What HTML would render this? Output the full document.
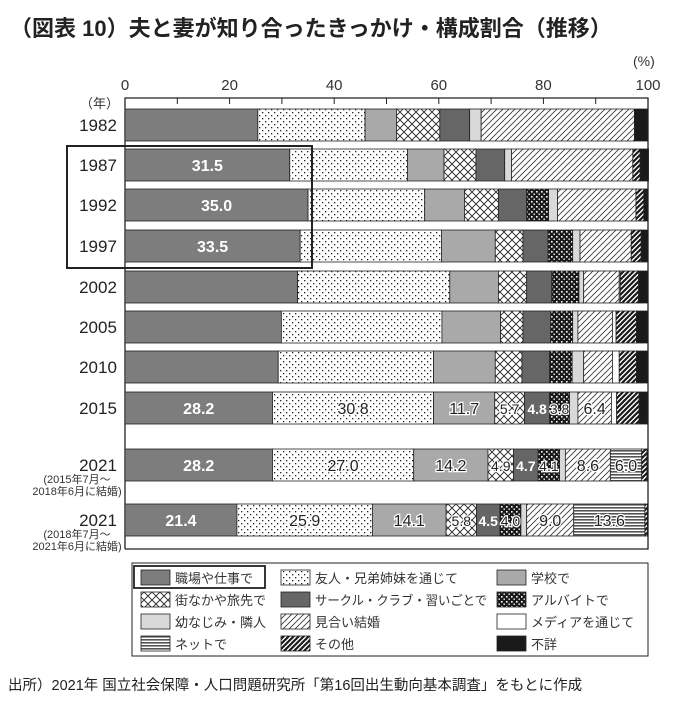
<!DOCTYPE html>
<html><head><meta charset="utf-8">
<style>
body{margin:0;background:#fff;}
svg{display:block;font-family:"Liberation Sans","Noto Sans CJK JP",sans-serif;}
</style></head>
<body>
<svg id="c" width="684" height="709" viewBox="0 0 684 709" xmlns="http://www.w3.org/2000/svg">
<defs>
<pattern id="pDots" width="6" height="6" patternUnits="userSpaceOnUse"><rect width="6" height="6" fill="#fff"/><rect x="1" y="1" width="1.3" height="1.3" fill="#222"/><rect x="4" y="4" width="1.3" height="1.3" fill="#222"/></pattern>
<pattern id="pCross" width="8" height="8" patternUnits="userSpaceOnUse"><rect width="8" height="8" fill="#fff"/><path d="M0 0L8 8M8 0L0 8" stroke="#222" stroke-width="0.9"/></pattern>
<pattern id="pBlackDots" width="5" height="5" patternUnits="userSpaceOnUse"><rect width="5" height="5" fill="#1a1a1a"/><rect x="1" y="1" width="1.6" height="1.6" fill="#fff"/><rect x="3.5" y="3.5" width="1.4" height="1.4" fill="#fff"/></pattern>
<pattern id="pDiag" width="6" height="6" patternUnits="userSpaceOnUse"><rect width="6" height="6" fill="#fff"/><path d="M-1 7L7 -1M-1 1L1 -1M5 7L7 5" stroke="#333" stroke-width="0.8"/></pattern>
<pattern id="pDiagBold" width="5" height="5" patternUnits="userSpaceOnUse"><rect width="5" height="5" fill="#fff"/><path d="M-1 6L6 -1M-1 1L1 -1M4 6L6 4" stroke="#1a1a1a" stroke-width="2.2"/></pattern>
<pattern id="pHoriz" width="4" height="3" patternUnits="userSpaceOnUse"><rect width="4" height="3" fill="#fff"/><rect y="0" width="4" height="1.6" fill="#555"/></pattern>
</defs>
<text x="10" y="36" font-size="22" font-weight="bold" fill="#222">（図表 10）夫と妻が知り合ったきっかけ・構成割合（推移）</text>
<text x="633" y="66" font-size="14" fill="#333">(%)</text>
<text x="80" y="108" font-size="13" fill="#333">（年）</text>
<g id="axis"></g>
<g id="bars"></g>
<rect x="67" y="146" width="245" height="122" fill="none" stroke="#222" stroke-width="2"/>
<g id="legend"></g>
<text x="8" y="690" font-size="14.5" fill="#222">出所）2021年 国立社会保障・人口問題研究所「第16回出生動向基本調査」をもとに作成</text>
</svg>
<script>
const categories=["1982","1987","1992","1997","2002","2005","2010","2015","2021a","2021b"];
const seriesNames=["職場や仕事で","友人・兄弟姉妹を通じて","学校で","街なかや旅先で","サークル・クラブ・習いごとで","アルバイトで","幼なじみ・隣人","見合い結婚","メディアを通じて","ネットで","その他","不詳"];
const workplace=[25.4,31.5,35.0,33.5,33.0,29.9,29.3,28.2,28.2,21.4];
const friends=[20.5,22.5,22.3,27.0,29.1,30.7,29.7,30.8,27.0,25.9];
const school=[6.0,7.0,7.6,10.3,9.3,11.2,11.8,11.7,14.2,14.1];
const street=[8.3,6.1,6.5,5.3,5.4,4.3,5.1,5.7,4.9,5.8];
const circle=[5.7,5.5,5.4,4.8,4.8,5.3,5.3,4.8,4.7,4.5];
const arbeit=[0,0,4.2,4.7,5.2,4.2,4.3,3.8,4.1,4.0];
const childhood=[2.2,1.3,1.7,1.4,0.9,1.0,2.2,1.6,1.1,1.1];
const miai=[29.3,23.2,15.0,9.8,6.8,6.6,5.5,6.4,8.6,9.0];
const media=[0,0,0,0,0.2,0.7,1.3,1.0,0,0];
const net=[0,0,0,0,0,0,0,0,6.0,13.6];
const other=[0,1.4,1.5,1.9,3.5,3.9,3.3,4.3,1.0,0.5];
const unknown=[2.6,1.6,0.8,1.3,1.8,2.2,2.2,1.7,0.2,0.1];
const ticks=[0,20,40,60,80,100];
const labeledRows=["2015","2021a","2021b"];
const emphasizeRows=["1987","1992","1997"];
const series=[workplace,friends,school,street,circle,arbeit,childhood,miai,media,net,other,unknown];
const fills=["#7d7d7d","url(#pDots)","#a9a9a9","url(#pCross)","#666","url(#pBlackDots)","#d9d9d9","url(#pDiag)","#fff","url(#pHoriz)","url(#pDiagBold)","#1a1a1a"];
const labelSeries=[0,1,2,3,4,5,7,9];
const NS="http://www.w3.org/2000/svg";
const X0=125,X1=648;
function xs(v){return X0+(X1-X0)*v/100;}
const rowCenter={"1982":125,"1987":165,"1992":205,"1997":246,"2002":287,"2005":327,"2010":367,"2015":408,"2021a":465,"2021b":520};
const barH=32;
function mk(tag,attrs,parent){const e=document.createElementNS(NS,tag);for(const k in attrs)e.setAttribute(k,attrs[k]);parent.appendChild(e);return e;}
const axis=document.getElementById('axis');
let fr=mk('path',{d:`M${X0} 549V98H${X1}V549H${X0}`,fill:'none',stroke:'#222','stroke-width':1.3},axis);


for(let v=10;v<100;v+=10){let t=mk('line',{x1:xs(v),x2:xs(v),y1:98,y2:104,stroke:'#222','stroke-width':1},axis);

}
ticks.forEach(v=>{let t=mk('text',{x:xs(v),y:90,'font-size':15,'text-anchor':'middle',fill:'#333'},axis);t.textContent=v;

});
const bars=document.getElementById('bars');
categories.forEach((cat,i)=>{
  const cy=rowCenter[cat];const y=cy-barH/2;
  let acc=0;
  series.forEach((s,j)=>{
    const v=s[i];if(v<=0){return;}
    const r=mk('rect',{x:xs(acc),y:y,width:xs(acc+v)-xs(acc),height:barH,fill:fills[j],stroke:'#222','stroke-width':0.8},bars);
    
    
    const showLbl=(labeledRows.includes(cat)&&labelSeries.includes(j))||(emphasizeRows.includes(cat)&&j===0);
    if(showLbl){
      const white=(j===0||j===4);
      const t=mk('text',{x:(xs(acc)+xs(acc+v))/2,y:cy+6,'font-size':v<6?14:16,'text-anchor':'middle',fill:white?'#fff':'#222','font-weight':white?'bold':'normal',stroke:white?'none':'#fff','stroke-width':white?0:2.5,'paint-order':'stroke'},bars);
      t.textContent=v.toFixed(1);
      
      
    }
    acc+=v;
  });
  const lab=mk('text',{x:98,y:cy+6,'font-size':17,'text-anchor':'middle',fill:'#222'},bars);
  lab.textContent=cat.slice(0,4);
  
  
});
const notes={"2021a":["(2015年7月～","2018年6月に結婚)"],"2021b":["(2018年7月～","2021年6月に結婚)"]};
for(const k in notes){const cy=rowCenter[k];notes[k].forEach((s,n)=>{const t=mk('text',{x:77,y:cy+18+n*12,'font-size':11,'text-anchor':'middle',fill:'#333'},bars);t.textContent=s;

});}
const lg=document.getElementById('legend');
let lb=mk('rect',{x:132,y:563,width:516,height:93,fill:'#fff',stroke:'#222','stroke-width':1},lg);


const colX=[141,281,497],rowY=[568,590,612,634];
seriesNames.forEach((nm,j)=>{
  const col=j%3,row=Math.floor(j/3);
  const x=colX[col],y=rowY[row];
  const g=mk('g',{},lg);
  
  
  mk('rect',{x:x,y:y+2,width:29,height:15,fill:fills[j],stroke:'#222','stroke-width':0.8},g);
  const attrs={x:x+34,y:y+15,'font-size':13,fill:'#333'};
  if(nm.length>12){attrs.textLength=172;attrs.lengthAdjust='spacingAndGlyphs';}
  const t=mk('text',attrs,g);t.textContent=nm;
});
let hl=mk('rect',{x:134,y:566,width:131,height:22,fill:'none',stroke:'#222','stroke-width':1.8},lg);


</script>
</body></html>
